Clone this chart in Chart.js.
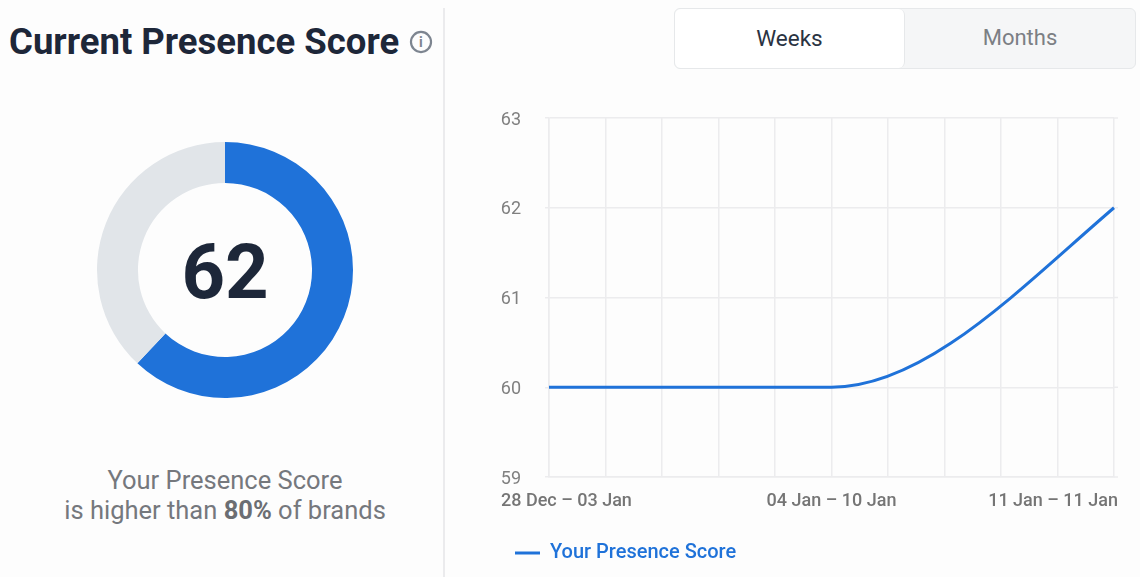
<!DOCTYPE html>
<html>
<head>
<meta charset="utf-8">
<script src="https://cdn.jsdelivr.net/npm/chart.js@4"></script>
<style>
html, body { margin: 0; padding: 0; }
body { width: 1140px; height: 577px; position: relative; overflow: hidden; background: #fdfdfd; font-family: Roboto, sans-serif; }
.abs { position: absolute; white-space: nowrap; }
#title { left: 9px; top: 21px; font-size: 36.5px; line-height: 42px; font-weight: 700; color: #1d2739; }
#info { left: 409px; top: 30px; width: 24px; height: 24px; }
#divider { left: 443px; top: 8px; width: 2px; height: 569px; background: #ebebed; }
#score { left: 125px; width: 200px; top: 232px; text-align: center; font-size: 76px; line-height: 80px; font-weight: 700; color: #1d2739; }
#caption { left: 25px; width: 400px; top: 465px; text-align: center; font-size: 25.5px; line-height: 30px; color: #75787d; }
#caption b { font-weight: 700; color: #6b6e73; }
#tabs { left: 674px; top: 8px; width: 462px; height: 61px; box-sizing: border-box; border: 1px solid #e6e8ea; border-radius: 6px; background: #f5f6f7; }
#weeks { position: absolute; left: 0; top: 0; width: 229px; height: 59px; background: #fff; border-right: 1px solid #e6e8ea; border-radius: 6px; text-align: center; line-height: 58px; font-size: 22.5px; color: #2a3342; }
#months { position: absolute; left: 230px; top: 0; width: 230px; height: 59px; text-align: center; line-height: 58px; font-size: 22px; color: #7c7f84; }
#donutBox { left: 90px; top: 135px; width: 270px; height: 270px; }
#lineBox { left: 495px; top: 100px; width: 645px; height: 473px; }
</style>
</head>
<body>
<div class="abs" id="title">Current Presence Score</div>
<svg class="abs" id="info" viewBox="0 0 22 22">
  <circle cx="11" cy="11" r="9.2" fill="none" stroke="#7d8590" stroke-width="2"/>
  <text x="11" y="16" text-anchor="middle" font-family="Roboto" font-size="13" font-weight="700" fill="#7d8590">i</text>
</svg>
<div class="abs" id="divider"></div>

<div class="abs" id="donutBox"><canvas id="donutChart"></canvas></div>
<div class="abs" id="score">62</div>
<div class="abs" id="caption">Your Presence Score<br>is higher than <b>80%</b> of brands</div>

<div class="abs" id="tabs">
  <div id="weeks">Weeks</div>
  <div id="months">Months</div>
</div>
<div class="abs" id="lineBox"><canvas id="lineChart"></canvas></div>

<script>
// Chart data
const weekLabels = ['28 Dec – 03 Jan', '04 Jan – 10 Jan', '11 Jan – 11 Jan'];
const presenceScores = [60, 60, 62];
const seriesName = 'Your Presence Score';
const donutParts = [62, 38];

const BLUE = '#1f72d9';
const GRID = '#ececee';

Chart.defaults.font.family = 'Roboto, sans-serif';
Chart.defaults.animation = false;

// Donut
new Chart(document.getElementById('donutChart'), {
    type: 'doughnut',
    data: {
        datasets: [{
            data: donutParts,
            backgroundColor: [BLUE, '#e1e5e9'],
            borderWidth: 0
        }]
    },
    options: {
        responsive: true,
        maintainAspectRatio: false,
        cutout: '68%',
        radius: 128,
        layout: { padding: 0 },
        plugins: { legend: { display: false }, tooltip: { enabled: false } }
    }
});

// Week labels sit off the tick points: first hangs left, last ends past the axis
const weekLabelsPlugin = {
    id: 'weekLabels',
    beforeDatasetsDraw(chart) {
        // horizontal grid lines run a little past the last vertical one
        const { ctx, scales } = chart;
        ctx.save();
        ctx.strokeStyle = GRID;
        ctx.lineWidth = 1.5;
        scales.y.ticks.forEach(tick => {
            const y = scales.y.getPixelForValue(tick.value);
            ctx.beginPath();
            ctx.moveTo(scales.x.right, y);
            ctx.lineTo(scales.x.right + 4, y);
            ctx.stroke();
        });
        ctx.restore();

        // the last segment arrives steeper than monotone gives, so it stays nearly straight
        const line = chart.getDatasetMeta(0).dataset;
        line.updateControlPoints(chart.chartArea, 'x');
        const last = line.points[line.points.length - 1];
        last.cp1y = last.y + (last.cp1y - last.y) * 1.35;
    },
    afterDraw(chart) {
        const { ctx, scales } = chart;
        const aligns = ['left', 'center', 'right'];
        const shifts = [-48, 0, 4];
        ctx.save();
        ctx.font = '500 18px Roboto, sans-serif';
        ctx.fillStyle = '#757575';
        ctx.textBaseline = 'middle';
        weekLabels.forEach((label, i) => {
            ctx.textAlign = aligns[i];
            ctx.fillText(label, scales.x.getPixelForValue(i) + shifts[i], scales.y.bottom + 24);
        });
        ctx.restore();
    }
};

// Line
new Chart(document.getElementById('lineChart'), {
    type: 'line',
    data: {
        datasets: [{
            label: seriesName,
            data: presenceScores.map((score, i) => ({ x: i, y: score })),
            borderColor: BLUE,
            backgroundColor: BLUE,
            borderWidth: 3,
            pointRadius: 0,
            cubicInterpolationMode: 'monotone',
            clip: false
        }]
    },
    options: {
        responsive: true,
        maintainAspectRatio: false,
        layout: { padding: { top: 18, right: 26 } },
        scales: {
            x: {
                type: 'linear',
                min: 0,
                max: 2,
                grid: { color: GRID, lineWidth: 1.5, drawTicks: false },
                border: { color: GRID, width: 1.5 },
                ticks: { stepSize: 0.2, display: false },
                afterFit(scale) { scale.height = 46; }
            },
            y: {
                min: 59,
                max: 63,
                grid: { color: GRID, lineWidth: 1.5, tickLength: 4 },
                border: { color: GRID, width: 1.5 },
                ticks: { stepSize: 1, color: '#808080', padding: 24, labelOffset: 2, font: { size: 18 } },
                afterFit(scale) {
                    scale.width = 54;
                    // tick padding would otherwise push the plot top down
                    scale.paddingTop = 0;
                    scale.paddingBottom = 0;
                }
            }
        },
        plugins: {
            tooltip: { enabled: false },
            legend: {
                position: 'bottom',
                align: 'start',
                labels: {
                    usePointStyle: true,
                    pointStyle: 'line',
                    pointStyleWidth: 25,
                    color: BLUE,
                    padding: 20,
                    font: { size: 20, weight: '500' }
                }
            }
        }
    },
    plugins: [weekLabelsPlugin]
});
</script>
</body>
</html>
